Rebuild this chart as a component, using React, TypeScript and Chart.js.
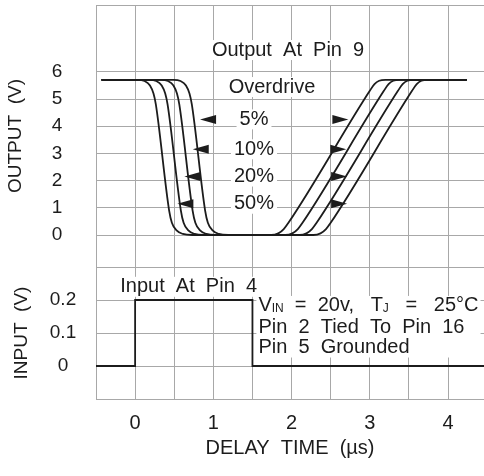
import { useEffect, useRef } from 'react';
import { Chart, registerables } from 'chart.js';

Chart.register(...registerables);

const FONT = '"Liberation Sans", Arial, Helvetica, sans-serif';
const INK = '#1c1c1c';
const GRID = '#a8a8a8';

// ---- axis ticks ----
const timeTickValues = [0, 0.5, 1, 1.5, 2, 2.5, 3, 3.5, 4];
const timeTickLabels = ['0', '', '1', '', '2', '', '3', '', '4'];
const outputTickValues = [0, 1, 2, 3, 4, 5, 6];
const inputTickValues = [0, 0.1, 0.2];

// ---- series (time in µs, output in V) ----
const overdriveNames = ['5%', '10%', '20%', '50%'];

const od5Time = [-0.43, 0.49, 0.58, 0.65, 0.695, 0.725, 0.895, 0.93, 0.99, 1.07, 1.19, 1.74, 1.83, 1.9, 1.96, 3.0, 3.06, 3.12, 3.2, 4.24];
const od5Volt = [5.7, 5.7, 5.66, 5.5, 5.2, 4.8, 0.9, 0.45, 0.17, 0.04, 0, 0, 0.06, 0.22, 0.45, 5.3, 5.55, 5.67, 5.7, 5.7];

const od10Time = [-0.43, 0.33, 0.42, 0.49, 0.535, 0.565, 0.735, 0.77, 0.83, 0.91, 1.03, 1.92, 2.01, 2.08, 2.14, 3.18, 3.24, 3.3, 3.38, 4.24];
const od10Volt = [5.7, 5.7, 5.66, 5.5, 5.2, 4.8, 0.9, 0.45, 0.17, 0.04, 0, 0, 0.06, 0.22, 0.45, 5.3, 5.55, 5.67, 5.7, 5.7];

const od20Time = [-0.43, 0.18, 0.27, 0.34, 0.385, 0.415, 0.585, 0.62, 0.68, 0.76, 0.88, 2.1, 2.19, 2.26, 2.32, 3.36, 3.42, 3.48, 3.56, 4.24];
const od20Volt = [5.7, 5.7, 5.66, 5.5, 5.2, 4.8, 0.9, 0.45, 0.17, 0.04, 0, 0, 0.06, 0.22, 0.45, 5.3, 5.55, 5.67, 5.7, 5.7];

const od50Time = [-0.43, 0.03, 0.12, 0.19, 0.235, 0.265, 0.435, 0.47, 0.53, 0.61, 0.73, 2.28, 2.37, 2.44, 2.5, 3.54, 3.6, 3.66, 3.74, 4.24];
const od50Volt = [5.7, 5.7, 5.66, 5.5, 5.2, 4.8, 0.9, 0.45, 0.17, 0.04, 0, 0, 0.06, 0.22, 0.45, 5.3, 5.55, 5.67, 5.7, 5.7];

// input pulse at pin 4 (V)
const inputTime = [-0.5, 0, 0, 1.5, 1.5, 4.6];
const inputVolt = [0, 0, 0.2, 0.2, 0, 0];

// overdrive arrows: level (V) and tip time (µs)
const arrowLevels = [4.25, 3.15, 2.15, 1.15];
const fallArrowTip = [0.83, 0.737, 0.63, 0.54];
const riseArrowTip = [2.726, 2.7, 2.71, 2.71];

// ---- annotation text ----
const outputTitle = 'Output  At  Pin  9';
const overdriveTitle = 'Overdrive';
const inputTitle = 'Input  At  Pin  4';
const noteLine2 = 'Pin  2  Tied  To  Pin  16';
const noteLine3 = 'Pin  5  Grounded';

// annotation placement (data units)
const ANN = {
  outputTitle: { x: 1.955, y: 6.8 },
  overdrive: { x: 1.75, y: 5.44 },
  pctX: 1.52,
  inputTitle: { x: -0.19, y: 0.24 },
  noteX: 1.576,
  noteY: [0.182, 0.116, 0.056],
};

const series = [
  { name: overdriveNames[0], t: od5Time, v: od5Volt },
  { name: overdriveNames[1], t: od10Time, v: od10Volt },
  { name: overdriveNames[2], t: od20Time, v: od20Volt },
  { name: overdriveNames[3], t: od50Time, v: od50Volt },
];

const notesPlugin = {
  id: 'notes',
  beforeDatasetsDraw(chart: any) {
    const { ctx, scales } = chart;
    const sx = scales.x;
    const so = scales.yOut;
    const si = scales.yIn;
    ctx.save();
    ctx.textBaseline = 'middle';
    const big = `20px ${FONT}`;
    const small = `12px ${FONT}`;

    const centered = (text: string, cx: number, cy: number) => {
      ctx.font = big;
      const w = ctx.measureText(text).width;
      ctx.fillStyle = '#ffffff';
      ctx.fillRect(cx - w / 2 - 3, cy - 10, w + 6, 20);
      ctx.fillStyle = INK;
      ctx.textAlign = 'center';
      ctx.fillText(text, cx, cy);
    };
    const lefted = (text: string, lx: number, cy: number) => {
      ctx.font = big;
      const w = ctx.measureText(text).width;
      ctx.fillStyle = '#ffffff';
      ctx.fillRect(lx - 2, cy - 10, w + 4, 20);
      ctx.fillStyle = INK;
      ctx.textAlign = 'left';
      ctx.fillText(text, lx, cy);
    };

    centered(outputTitle, sx.getPixelForValue(ANN.outputTitle.x), so.getPixelForValue(ANN.outputTitle.y));
    centered(overdriveTitle, sx.getPixelForValue(ANN.overdrive.x), so.getPixelForValue(ANN.overdrive.y));
    overdriveNames.forEach((n, i) => {
      centered(n, sx.getPixelForValue(ANN.pctX), so.getPixelForValue(arrowLevels[i]));
    });
    lefted(inputTitle, sx.getPixelForValue(ANN.inputTitle.x), si.getPixelForValue(ANN.inputTitle.y));

    // note block
    const runs: { t: string; sub?: boolean }[] = [
      { t: 'V' },
      { t: 'IN', sub: true },
      { t: '  =  20v,   T' },
      { t: 'J', sub: true },
      { t: '   =   25°C' },
    ];
    const nx = sx.getPixelForValue(ANN.noteX);
    const ny = ANN.noteY.map((v) => si.getPixelForValue(v));
    let w1 = 0;
    runs.forEach((r) => {
      ctx.font = r.sub ? small : big;
      w1 += ctx.measureText(r.t).width;
    });
    ctx.font = big;
    const w2 = ctx.measureText(noteLine2).width;
    const w3 = ctx.measureText(noteLine3).width;
    const wmax = Math.max(w1, w2, w3);
    ctx.fillStyle = '#ffffff';
    ctx.fillRect(nx - 2, ny[0] - 10, wmax + 4, ny[2] - ny[0] + 20);
    ctx.fillStyle = INK;
    ctx.textAlign = 'left';
    let cx = nx;
    runs.forEach((r) => {
      ctx.font = r.sub ? small : big;
      ctx.fillText(r.t, cx, r.sub ? ny[0] + 3 : ny[0]);
      cx += ctx.measureText(r.t).width;
    });
    ctx.font = big;
    ctx.fillText(noteLine2, nx, ny[1]);
    ctx.fillText(noteLine3, nx, ny[2]);
    ctx.restore();
  },
  afterDatasetsDraw(chart: any) {
    const { ctx, scales } = chart;
    const sx = scales.x;
    const so = scales.yOut;
    ctx.save();
    ctx.fillStyle = INK;
    arrowLevels.forEach((lv, i) => {
      const y = so.getPixelForValue(lv);
      const lt = sx.getPixelForValue(fallArrowTip[i]);
      ctx.beginPath();
      ctx.moveTo(lt, y);
      ctx.lineTo(lt + 16, y - 4.5);
      ctx.lineTo(lt + 16, y + 4.5);
      ctx.closePath();
      ctx.fill();
      const rt = sx.getPixelForValue(riseArrowTip[i]);
      ctx.beginPath();
      ctx.moveTo(rt, y);
      ctx.lineTo(rt - 16, y - 4.5);
      ctx.lineTo(rt - 16, y + 4.5);
      ctx.closePath();
      ctx.fill();
    });
    ctx.restore();
  },
};

const fitY = (s: any) => {
  s.width = 96;
  s.paddingTop = 0;
  s.paddingBottom = 0;
};

export default function App() {
  const ref = useRef<HTMLCanvasElement>(null);

  useEffect(() => {
    const canvas = ref.current;
    if (!canvas) return;

    const datasets: any[] = series.map((s) => ({
      label: s.name,
      data: s.t.map((x, i) => ({ x, y: s.v[i] })),
      yAxisID: 'yOut',
      borderColor: INK,
      borderWidth: 1.8,
      pointRadius: 0,
      fill: false,
      cubicInterpolationMode: 'monotone',
    }));
    datasets.push({
      label: 'Input',
      data: inputTime.map((x, i) => ({ x, y: inputVolt[i] })),
      yAxisID: 'yIn',
      borderColor: INK,
      borderWidth: 1.8,
      pointRadius: 0,
      fill: false,
      tension: 0,
    });

    const chart = new Chart(canvas, {
      type: 'line',
      data: { datasets },
      plugins: [notesPlugin],
      options: {
        animation: false,
        responsive: true,
        maintainAspectRatio: false,
        events: [],
        layout: { padding: { top: 5, left: 0, right: 0, bottom: 0 } },
        plugins: { legend: { display: false }, tooltip: { enabled: false } },
        scales: {
          x: {
            type: 'linear',
            min: -0.5,
            max: 4.46,
            afterBuildTicks: (s: any) => {
              s.ticks = timeTickValues.map((value) => ({ value }));
            },
            afterFit: (s: any) => {
              s.height = 77;
              s.paddingLeft = 0;
              s.paddingRight = 0;
            },
            grid: { color: GRID, lineWidth: 1, drawTicks: false },
            border: { color: GRID, width: 1 },
            ticks: {
              autoSkip: false,
              maxRotation: 0,
              padding: 12.6,
              color: INK,
              font: { family: FONT, size: 20 },
              callback: (_v: any, i: number) => timeTickLabels[i],
            },
            title: {
              display: true,
              text: 'DELAY  TIME  (µs)',
              color: INK,
              font: { family: FONT, size: 20 },
              padding: { top: 0, bottom: 16 },
            },
          },
          yIn: {
            type: 'linear',
            position: 'left',
            stack: 'panels',
            stackWeight: 132,
            weight: 0,
            min: -0.1,
            max: 0.3,
            afterBuildTicks: (s: any) => {
              s.ticks = [-0.1, ...inputTickValues, 0.3].map((value) => ({ value }));
            },
            afterFit: fitY,
            grid: { color: GRID, lineWidth: 1, drawTicks: false },
            border: { color: GRID, width: 1 },
            ticks: {
              autoSkip: false,
              crossAlign: 'center',
              padding: 19.8,
              color: INK,
              font: { family: FONT, size: 19 },
              callback: (v: any) => (inputTickValues.includes(v) ? String(v) : ''),
            },
            title: {
              display: true,
              text: 'INPUT  (V)',
              color: INK,
              font: { family: FONT, size: 19 },
              padding: { top: 10, bottom: 0 },
            },
          },
          yOut: {
            type: 'linear',
            position: 'left',
            stack: 'panels',
            stackWeight: 262,
            weight: 1,
            min: -1.176,
            max: 8.456,
            afterBuildTicks: (s: any) => {
              s.ticks = [...outputTickValues, 8.456].map((value) => ({ value }));
            },
            afterFit: fitY,
            grid: { color: GRID, lineWidth: 1, drawTicks: false },
            border: { color: GRID, width: 1 },
            ticks: {
              autoSkip: false,
              crossAlign: 'center',
              padding: 33.7,
              color: INK,
              font: { family: FONT, size: 19 },
              callback: (v: any) => (outputTickValues.includes(v) ? String(v) : ''),
            },
            title: {
              display: true,
              text: 'OUTPUT  (V)',
              color: INK,
              font: { family: FONT, size: 19 },
              padding: { top: 4.5, bottom: 0 },
            },
          },
        },
      } as any,
    });
    return () => chart.destroy();
  }, []);

  return (
    <div style={{ position: 'absolute', left: 0, top: 0, width: 484, height: 476, background: '#ffffff' }}>
      <canvas ref={ref} />
    </div>
  );
}
